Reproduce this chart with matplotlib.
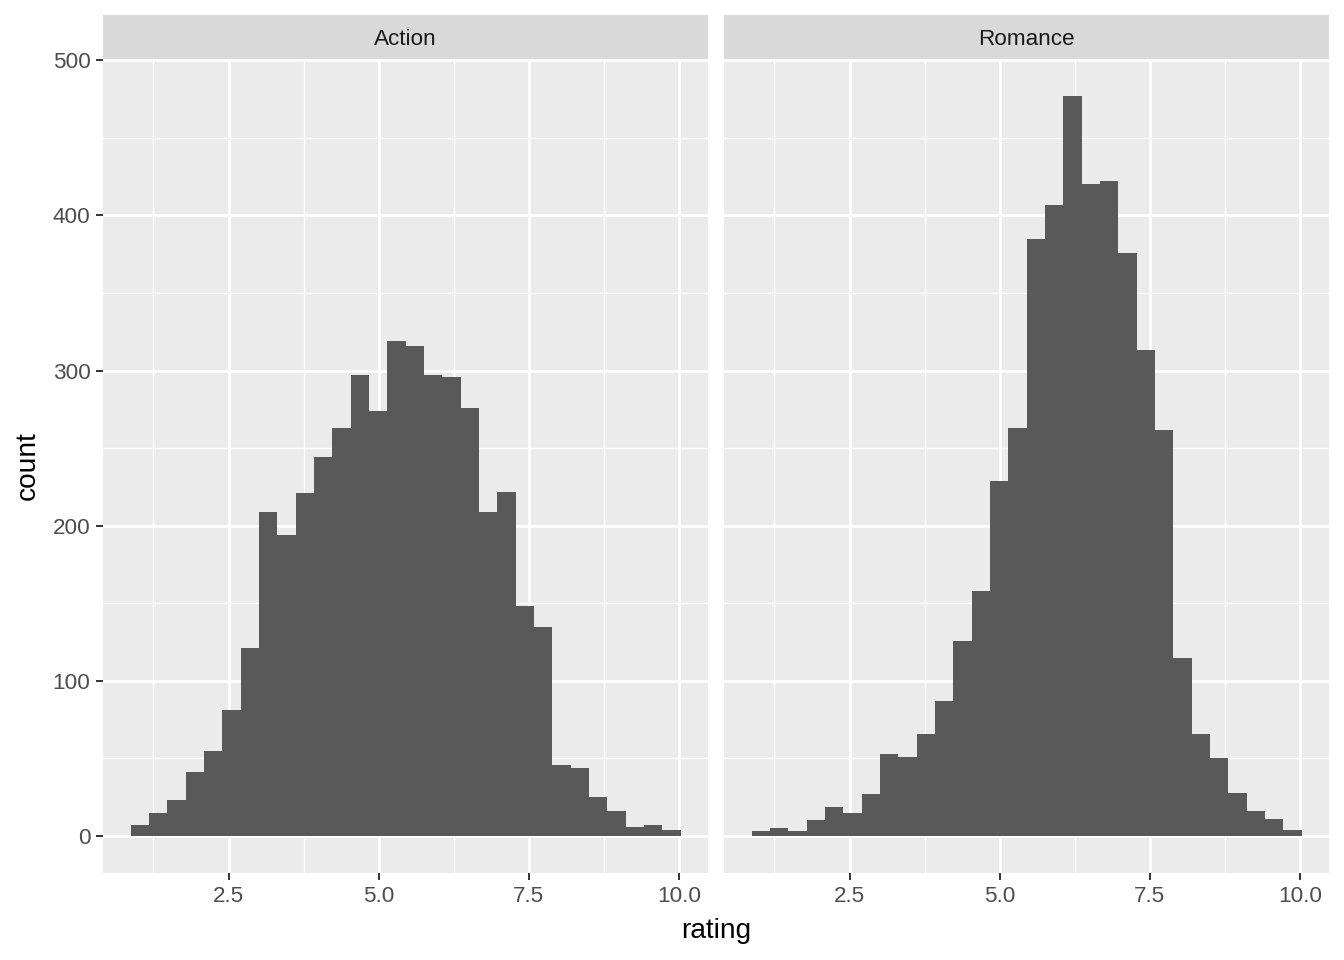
import numpy as np
import matplotlib
matplotlib.use("Agg")
import matplotlib.pyplot as plt
from matplotlib.ticker import FixedLocator

plt.rcParams['font.family'] = ['Liberation Sans', 'DejaVu Sans']

panels = ["Action", "Romance"]
action_counts = [7, 15, 23, 41, 55, 81, 121, 209, 194, 221, 244, 263, 297, 274, 319,
                 316, 297, 296, 276, 209, 222, 148, 135, 46, 44, 25, 16, 6, 7, 4]
romance_counts = [3, 5, 3, 10, 19, 15, 27, 53, 51, 66, 87, 126, 158, 229, 263,
                  385, 407, 477, 420, 422, 376, 313, 262, 115, 66, 50, 28, 16, 11, 4]
bin_start = 0.867
bin_width = 0.3053
x_ticks = [2.5, 5.0, 7.5, 10.0]
x_tick_labels = ["2.5", "5.0", "7.5", "10.0"]
x_minor = [1.25, 3.75, 6.25, 8.75]
y_ticks = [0, 100, 200, 300, 400, 500]
y_minor = [50, 150, 250, 350, 450]

W, H = 1344, 960
fig = plt.figure(figsize=(W / 100, H / 100), dpi=100)
fig.patch.set_facecolor("white")

panel_lefts = [103, 724]
panel_w = 605
top_px, bot_px = 59, 873
strip_top = 15

n = len(action_counts)
edges = bin_start + bin_width * np.arange(n + 1)
xmin_d, xmax_d = edges[0], edges[-1]
xr = xmax_d - xmin_d
ymax_d = max(max(action_counts), max(romance_counts))

for i, (name, counts) in enumerate(zip(panels, [action_counts, romance_counts])):
    L = panel_lefts[i]
    ax = fig.add_axes([L / W, (H - bot_px) / H, panel_w / W, (bot_px - top_px) / H])
    ax.set_facecolor("#EBEBEB")
    ax.stairs(counts, edges, fill=True, color="#595959", linewidth=0, zorder=3)
    ax.set_xlim(xmin_d - 0.05 * xr, xmax_d + 0.05 * xr)
    ax.set_ylim(-0.05 * ymax_d, ymax_d * 1.05)
    ax.xaxis.set_major_locator(FixedLocator(x_ticks))
    ax.set_xticklabels(x_tick_labels)
    ax.xaxis.set_minor_locator(FixedLocator(x_minor))
    ax.yaxis.set_major_locator(FixedLocator(y_ticks))
    ax.yaxis.set_minor_locator(FixedLocator(y_minor))
    ax.grid(which="major", color="white", linewidth=1.9, zorder=1)
    ax.grid(which="minor", color="white", linewidth=0.95, zorder=1)
    ax.set_axisbelow(True)
    for s in ax.spines.values():
        s.set_visible(False)
    ax.tick_params(which="major", length=5, width=1.4, color="#333333",
                   labelsize=16.2, labelcolor="#4D4D4D", pad=4)
    ax.tick_params(which="minor", length=0)
    if i == 1:
        ax.tick_params(axis="y", which="major", length=0, labelleft=False)
    sax = fig.add_axes([L / W, (H - top_px) / H, panel_w / W, (top_px - strip_top) / H])
    sax.set_facecolor("#D9D9D9")
    sax.set_xticks([])
    sax.set_yticks([])
    for s in sax.spines.values():
        s.set_visible(False)
    sax.text(0.5, 0.44, name, ha="center", va="center", fontsize=16.2, color="#1A1A1A",
             transform=sax.transAxes)

fig.text((panel_lefts[0] + panel_lefts[1] + panel_w) / 2 / W, 1 - 931 / H, "rating",
         ha="center", va="center", fontsize=20.2, color="black")
fig.text(28 / W, 1 - 466 / H, "count", ha="center", va="center", rotation=90,
         fontsize=20.2, color="black")

fig.savefig("out.png", dpi=100)
